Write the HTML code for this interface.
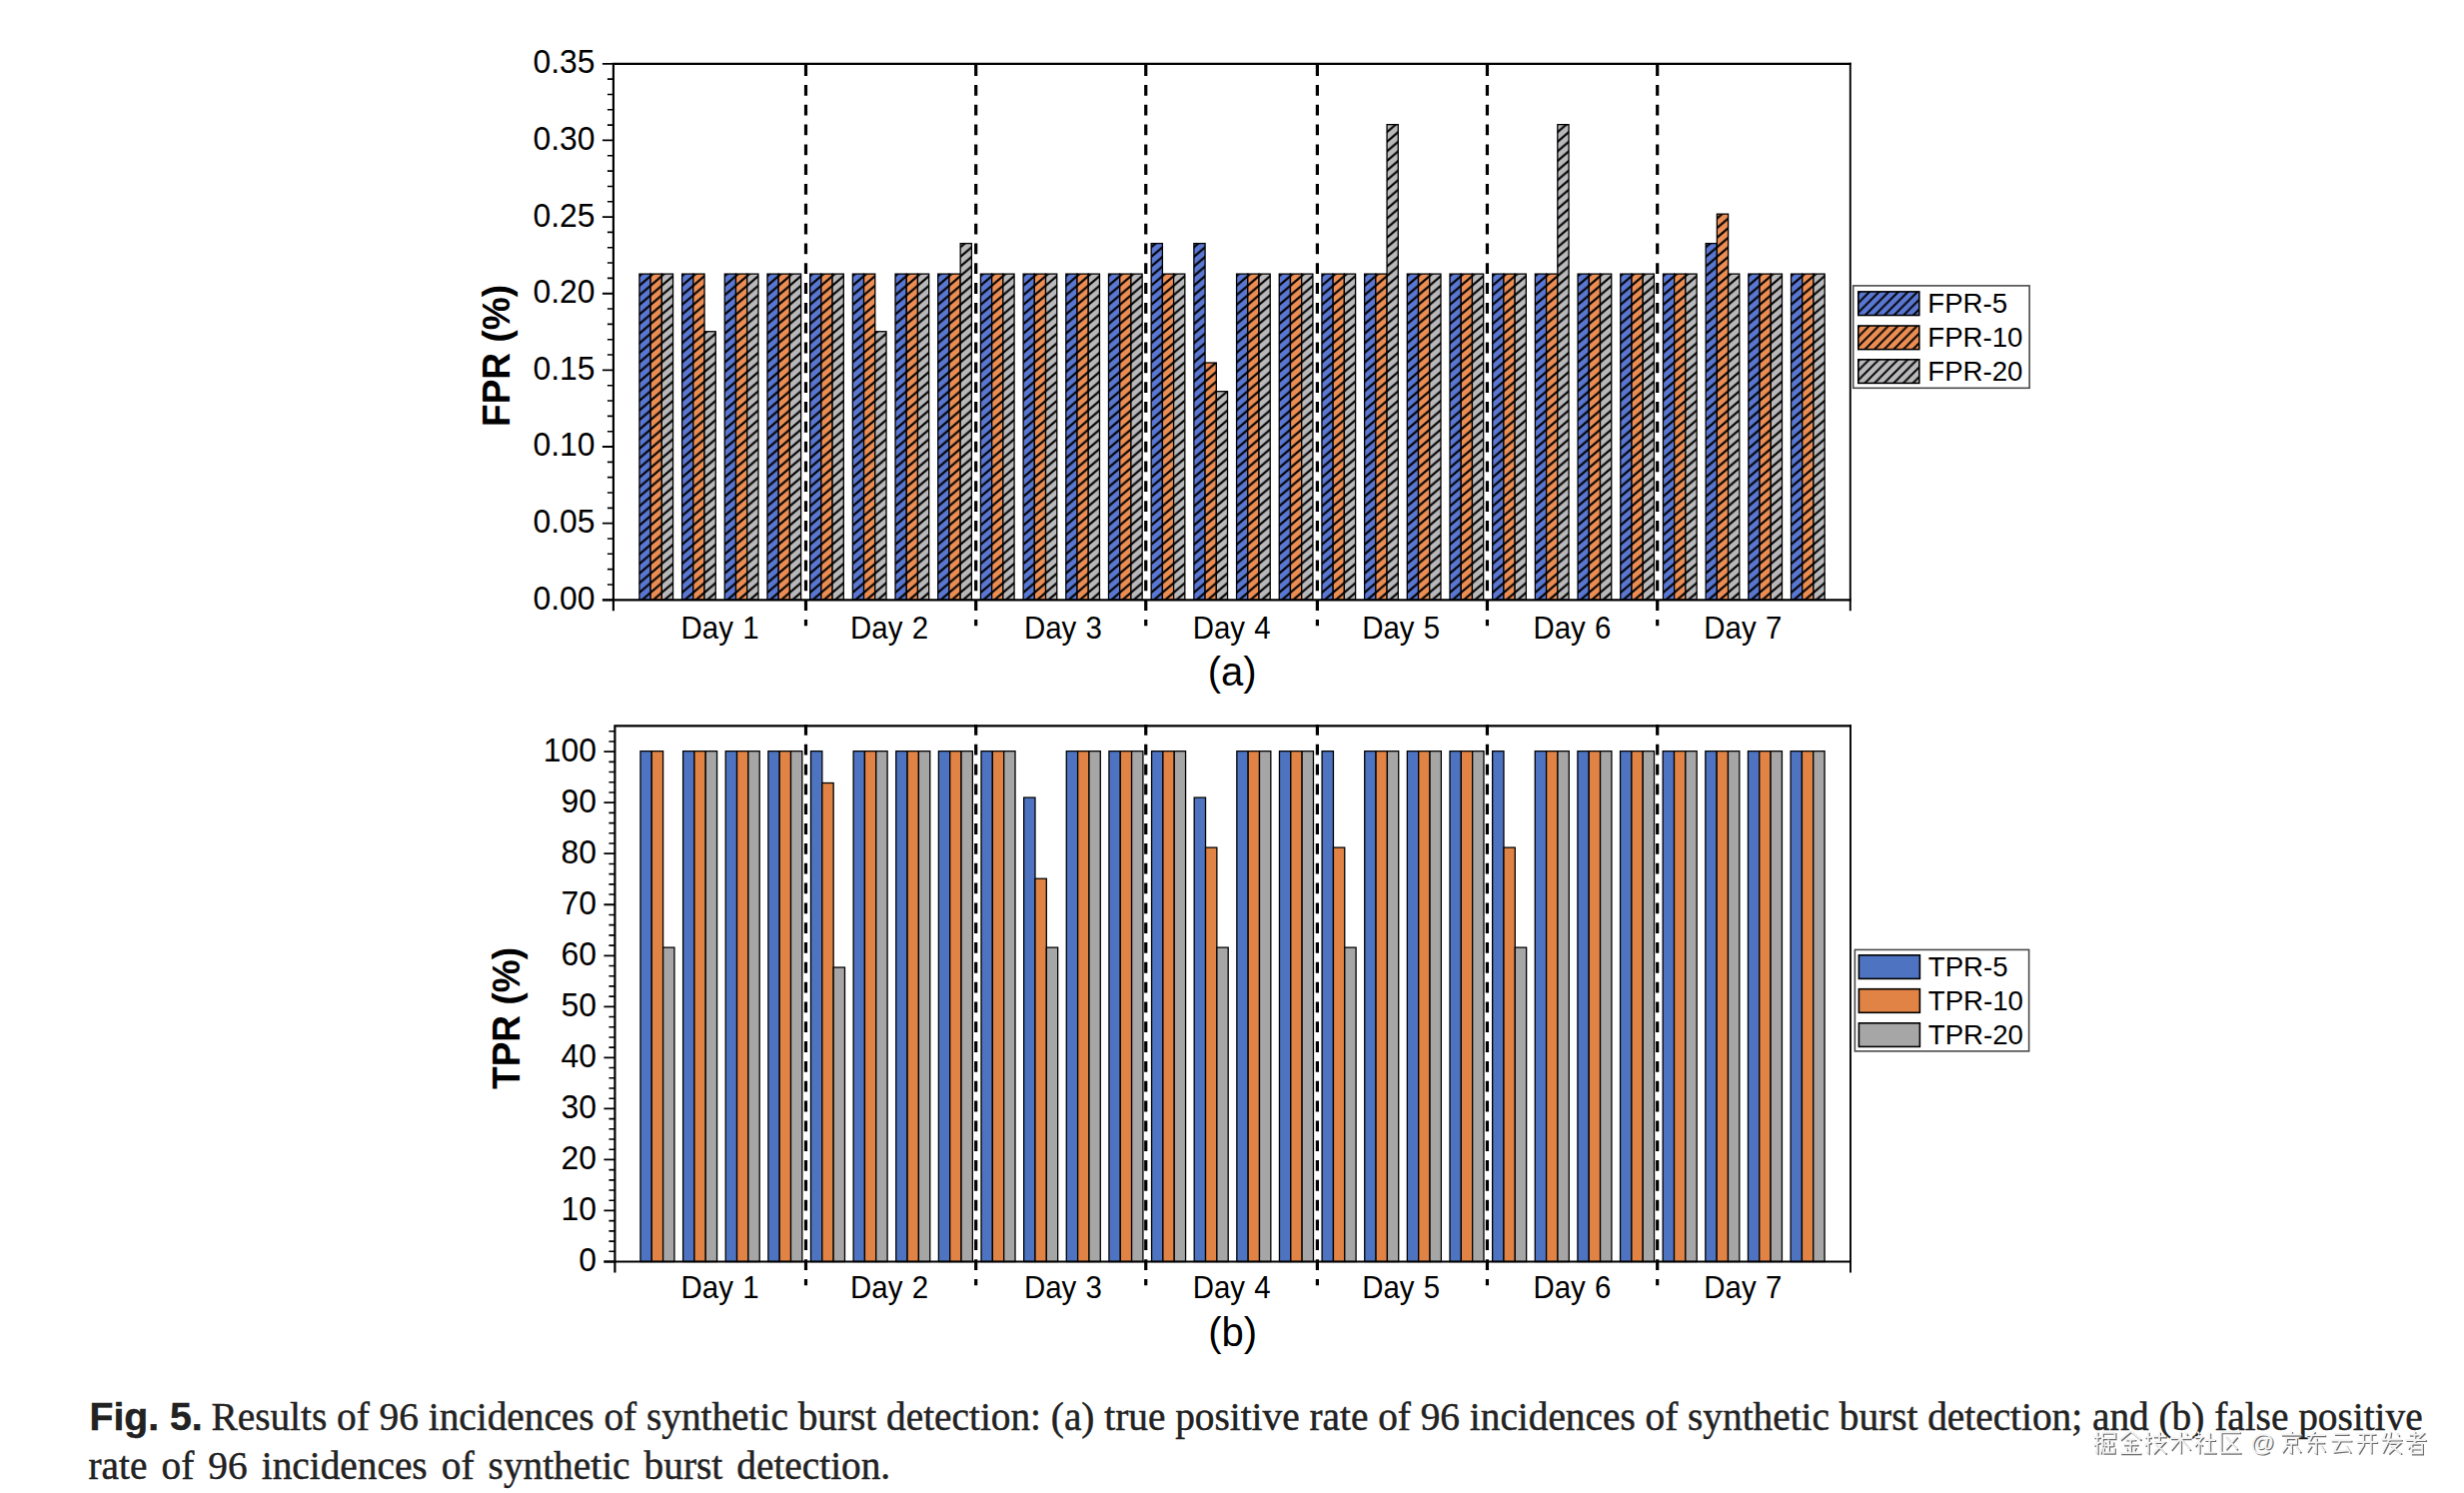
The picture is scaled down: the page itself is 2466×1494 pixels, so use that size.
<!DOCTYPE html>
<html><head><meta charset="utf-8"><title>Fig. 5</title>
<style>html,body{margin:0;padding:0;background:#fff}body{width:2466px;height:1494px;position:relative;overflow:hidden;font-family:"Liberation Sans",sans-serif}</style></head>
<body>
<svg width="2466" height="1494" viewBox="0 0 2466 1494" style="position:absolute;left:0;top:0">
<defs>
<pattern id="hb" patternUnits="userSpaceOnUse" x="0" y="7.40" width="11.22" height="9.60">
<rect x="0" y="0" width="11.22" height="9.60" fill="#5a77d2"/>
<path d="M-11.22 19.20L11.22 0.00M0.00 19.20L22.44 0.00M-11.22 9.60L11.22 -9.60" stroke="#000" stroke-width="2.10" fill="none"/>
</pattern>
<pattern id="ho" patternUnits="userSpaceOnUse" x="0" y="7.40" width="11.22" height="9.60">
<rect x="0" y="0" width="11.22" height="9.60" fill="#ec8e54"/>
<path d="M-11.22 19.20L11.22 0.00M0.00 19.20L22.44 0.00M-11.22 9.60L11.22 -9.60" stroke="#000" stroke-width="2.10" fill="none"/>
</pattern>
<pattern id="hg" patternUnits="userSpaceOnUse" x="0" y="7.40" width="11.22" height="9.60">
<rect x="0" y="0" width="11.22" height="9.60" fill="#b9b9bb"/>
<path d="M-11.22 19.20L11.22 0.00M0.00 19.20L22.44 0.00M-11.22 9.60L11.22 -9.60" stroke="#000" stroke-width="2.10" fill="none"/>
</pattern>
<pattern id="lb" patternUnits="userSpaceOnUse" x="0" y="3.00" width="9.60" height="9.60">
<rect x="0" y="0" width="9.60" height="9.60" fill="#5a77d2"/>
<path d="M-9.60 19.20L9.60 0.00M0.00 19.20L19.20 0.00M-9.60 9.60L9.60 -9.60" stroke="#000" stroke-width="1.90" fill="none"/>
</pattern>
<pattern id="lo" patternUnits="userSpaceOnUse" x="0" y="8.00" width="9.60" height="9.60">
<rect x="0" y="0" width="9.60" height="9.60" fill="#ec8e54"/>
<path d="M-9.60 19.20L9.60 0.00M0.00 19.20L19.20 0.00M-9.60 9.60L9.60 -9.60" stroke="#000" stroke-width="1.90" fill="none"/>
</pattern>
<pattern id="lg" patternUnits="userSpaceOnUse" x="0" y="3.40" width="9.60" height="9.60">
<rect x="0" y="0" width="9.60" height="9.60" fill="#b9b9bb"/>
<path d="M-9.60 19.20L9.60 0.00M0.00 19.20L19.20 0.00M-9.60 9.60L9.60 -9.60" stroke="#000" stroke-width="1.90" fill="none"/>
</pattern>
</defs>
<rect width="2466" height="1494" fill="#fff"/>
<g font-family="Liberation Sans, sans-serif" fill="#000">
<g transform="translate(639.90 0)">
<rect x="0.00" y="274.11" width="11.22" height="326.19" fill="url(#hb)" stroke="#000" stroke-width="1.3"/>
<rect x="11.22" y="274.11" width="11.22" height="326.19" fill="url(#ho)" stroke="#000" stroke-width="1.3"/>
<rect x="22.44" y="274.11" width="11.22" height="326.19" fill="url(#hg)" stroke="#000" stroke-width="1.3"/>
</g>
<g transform="translate(682.59 0)">
<rect x="0.00" y="274.11" width="11.22" height="326.19" fill="url(#hb)" stroke="#000" stroke-width="1.3"/>
<rect x="11.22" y="274.11" width="11.22" height="326.19" fill="url(#ho)" stroke="#000" stroke-width="1.3"/>
<rect x="22.44" y="331.74" width="11.22" height="268.56" fill="url(#hg)" stroke="#000" stroke-width="1.3"/>
</g>
<g transform="translate(725.28 0)">
<rect x="0.00" y="274.11" width="11.22" height="326.19" fill="url(#hb)" stroke="#000" stroke-width="1.3"/>
<rect x="11.22" y="274.11" width="11.22" height="326.19" fill="url(#ho)" stroke="#000" stroke-width="1.3"/>
<rect x="22.44" y="274.11" width="11.22" height="326.19" fill="url(#hg)" stroke="#000" stroke-width="1.3"/>
</g>
<g transform="translate(767.97 0)">
<rect x="0.00" y="274.11" width="11.22" height="326.19" fill="url(#hb)" stroke="#000" stroke-width="1.3"/>
<rect x="11.22" y="274.11" width="11.22" height="326.19" fill="url(#ho)" stroke="#000" stroke-width="1.3"/>
<rect x="22.44" y="274.11" width="11.22" height="326.19" fill="url(#hg)" stroke="#000" stroke-width="1.3"/>
</g>
<g transform="translate(810.66 0)">
<rect x="0.00" y="274.11" width="11.22" height="326.19" fill="url(#hb)" stroke="#000" stroke-width="1.3"/>
<rect x="11.22" y="274.11" width="11.22" height="326.19" fill="url(#ho)" stroke="#000" stroke-width="1.3"/>
<rect x="22.44" y="274.11" width="11.22" height="326.19" fill="url(#hg)" stroke="#000" stroke-width="1.3"/>
</g>
<g transform="translate(853.35 0)">
<rect x="0.00" y="274.11" width="11.22" height="326.19" fill="url(#hb)" stroke="#000" stroke-width="1.3"/>
<rect x="11.22" y="274.11" width="11.22" height="326.19" fill="url(#ho)" stroke="#000" stroke-width="1.3"/>
<rect x="22.44" y="331.74" width="11.22" height="268.56" fill="url(#hg)" stroke="#000" stroke-width="1.3"/>
</g>
<g transform="translate(896.04 0)">
<rect x="0.00" y="274.11" width="11.22" height="326.19" fill="url(#hb)" stroke="#000" stroke-width="1.3"/>
<rect x="11.22" y="274.11" width="11.22" height="326.19" fill="url(#ho)" stroke="#000" stroke-width="1.3"/>
<rect x="22.44" y="274.11" width="11.22" height="326.19" fill="url(#hg)" stroke="#000" stroke-width="1.3"/>
</g>
<g transform="translate(938.73 0)">
<rect x="0.00" y="274.11" width="11.22" height="326.19" fill="url(#hb)" stroke="#000" stroke-width="1.3"/>
<rect x="11.22" y="274.11" width="11.22" height="326.19" fill="url(#ho)" stroke="#000" stroke-width="1.3"/>
<rect x="22.44" y="243.60" width="11.22" height="356.70" fill="url(#hg)" stroke="#000" stroke-width="1.3"/>
</g>
<g transform="translate(981.42 0)">
<rect x="0.00" y="274.11" width="11.22" height="326.19" fill="url(#hb)" stroke="#000" stroke-width="1.3"/>
<rect x="11.22" y="274.11" width="11.22" height="326.19" fill="url(#ho)" stroke="#000" stroke-width="1.3"/>
<rect x="22.44" y="274.11" width="11.22" height="326.19" fill="url(#hg)" stroke="#000" stroke-width="1.3"/>
</g>
<g transform="translate(1024.11 0)">
<rect x="0.00" y="274.11" width="11.22" height="326.19" fill="url(#hb)" stroke="#000" stroke-width="1.3"/>
<rect x="11.22" y="274.11" width="11.22" height="326.19" fill="url(#ho)" stroke="#000" stroke-width="1.3"/>
<rect x="22.44" y="274.11" width="11.22" height="326.19" fill="url(#hg)" stroke="#000" stroke-width="1.3"/>
</g>
<g transform="translate(1066.80 0)">
<rect x="0.00" y="274.11" width="11.22" height="326.19" fill="url(#hb)" stroke="#000" stroke-width="1.3"/>
<rect x="11.22" y="274.11" width="11.22" height="326.19" fill="url(#ho)" stroke="#000" stroke-width="1.3"/>
<rect x="22.44" y="274.11" width="11.22" height="326.19" fill="url(#hg)" stroke="#000" stroke-width="1.3"/>
</g>
<g transform="translate(1109.49 0)">
<rect x="0.00" y="274.11" width="11.22" height="326.19" fill="url(#hb)" stroke="#000" stroke-width="1.3"/>
<rect x="11.22" y="274.11" width="11.22" height="326.19" fill="url(#ho)" stroke="#000" stroke-width="1.3"/>
<rect x="22.44" y="274.11" width="11.22" height="326.19" fill="url(#hg)" stroke="#000" stroke-width="1.3"/>
</g>
<g transform="translate(1152.18 0)">
<rect x="0.00" y="243.60" width="11.22" height="356.70" fill="url(#hb)" stroke="#000" stroke-width="1.3"/>
<rect x="11.22" y="274.11" width="11.22" height="326.19" fill="url(#ho)" stroke="#000" stroke-width="1.3"/>
<rect x="22.44" y="274.11" width="11.22" height="326.19" fill="url(#hg)" stroke="#000" stroke-width="1.3"/>
</g>
<g transform="translate(1194.87 0)">
<rect x="0.00" y="243.60" width="11.22" height="356.70" fill="url(#hb)" stroke="#000" stroke-width="1.3"/>
<rect x="11.22" y="363.01" width="11.22" height="237.29" fill="url(#ho)" stroke="#000" stroke-width="1.3"/>
<rect x="22.44" y="391.68" width="11.22" height="208.62" fill="url(#hg)" stroke="#000" stroke-width="1.3"/>
</g>
<g transform="translate(1237.56 0)">
<rect x="0.00" y="274.11" width="11.22" height="326.19" fill="url(#hb)" stroke="#000" stroke-width="1.3"/>
<rect x="11.22" y="274.11" width="11.22" height="326.19" fill="url(#ho)" stroke="#000" stroke-width="1.3"/>
<rect x="22.44" y="274.11" width="11.22" height="326.19" fill="url(#hg)" stroke="#000" stroke-width="1.3"/>
</g>
<g transform="translate(1280.25 0)">
<rect x="0.00" y="274.11" width="11.22" height="326.19" fill="url(#hb)" stroke="#000" stroke-width="1.3"/>
<rect x="11.22" y="274.11" width="11.22" height="326.19" fill="url(#ho)" stroke="#000" stroke-width="1.3"/>
<rect x="22.44" y="274.11" width="11.22" height="326.19" fill="url(#hg)" stroke="#000" stroke-width="1.3"/>
</g>
<g transform="translate(1322.94 0)">
<rect x="0.00" y="274.11" width="11.22" height="326.19" fill="url(#hb)" stroke="#000" stroke-width="1.3"/>
<rect x="11.22" y="274.11" width="11.22" height="326.19" fill="url(#ho)" stroke="#000" stroke-width="1.3"/>
<rect x="22.44" y="274.11" width="11.22" height="326.19" fill="url(#hg)" stroke="#000" stroke-width="1.3"/>
</g>
<g transform="translate(1365.63 0)">
<rect x="0.00" y="274.11" width="11.22" height="326.19" fill="url(#hb)" stroke="#000" stroke-width="1.3"/>
<rect x="11.22" y="274.11" width="11.22" height="326.19" fill="url(#ho)" stroke="#000" stroke-width="1.3"/>
<rect x="22.44" y="124.65" width="11.22" height="475.65" fill="url(#hg)" stroke="#000" stroke-width="1.3"/>
</g>
<g transform="translate(1408.32 0)">
<rect x="0.00" y="274.11" width="11.22" height="326.19" fill="url(#hb)" stroke="#000" stroke-width="1.3"/>
<rect x="11.22" y="274.11" width="11.22" height="326.19" fill="url(#ho)" stroke="#000" stroke-width="1.3"/>
<rect x="22.44" y="274.11" width="11.22" height="326.19" fill="url(#hg)" stroke="#000" stroke-width="1.3"/>
</g>
<g transform="translate(1451.01 0)">
<rect x="0.00" y="274.11" width="11.22" height="326.19" fill="url(#hb)" stroke="#000" stroke-width="1.3"/>
<rect x="11.22" y="274.11" width="11.22" height="326.19" fill="url(#ho)" stroke="#000" stroke-width="1.3"/>
<rect x="22.44" y="274.11" width="11.22" height="326.19" fill="url(#hg)" stroke="#000" stroke-width="1.3"/>
</g>
<g transform="translate(1493.70 0)">
<rect x="0.00" y="274.11" width="11.22" height="326.19" fill="url(#hb)" stroke="#000" stroke-width="1.3"/>
<rect x="11.22" y="274.11" width="11.22" height="326.19" fill="url(#ho)" stroke="#000" stroke-width="1.3"/>
<rect x="22.44" y="274.11" width="11.22" height="326.19" fill="url(#hg)" stroke="#000" stroke-width="1.3"/>
</g>
<g transform="translate(1536.39 0)">
<rect x="0.00" y="274.11" width="11.22" height="326.19" fill="url(#hb)" stroke="#000" stroke-width="1.3"/>
<rect x="11.22" y="274.11" width="11.22" height="326.19" fill="url(#ho)" stroke="#000" stroke-width="1.3"/>
<rect x="22.44" y="124.65" width="11.22" height="475.65" fill="url(#hg)" stroke="#000" stroke-width="1.3"/>
</g>
<g transform="translate(1579.08 0)">
<rect x="0.00" y="274.11" width="11.22" height="326.19" fill="url(#hb)" stroke="#000" stroke-width="1.3"/>
<rect x="11.22" y="274.11" width="11.22" height="326.19" fill="url(#ho)" stroke="#000" stroke-width="1.3"/>
<rect x="22.44" y="274.11" width="11.22" height="326.19" fill="url(#hg)" stroke="#000" stroke-width="1.3"/>
</g>
<g transform="translate(1621.77 0)">
<rect x="0.00" y="274.11" width="11.22" height="326.19" fill="url(#hb)" stroke="#000" stroke-width="1.3"/>
<rect x="11.22" y="274.11" width="11.22" height="326.19" fill="url(#ho)" stroke="#000" stroke-width="1.3"/>
<rect x="22.44" y="274.11" width="11.22" height="326.19" fill="url(#hg)" stroke="#000" stroke-width="1.3"/>
</g>
<g transform="translate(1664.46 0)">
<rect x="0.00" y="274.11" width="11.22" height="326.19" fill="url(#hb)" stroke="#000" stroke-width="1.3"/>
<rect x="11.22" y="274.11" width="11.22" height="326.19" fill="url(#ho)" stroke="#000" stroke-width="1.3"/>
<rect x="22.44" y="274.11" width="11.22" height="326.19" fill="url(#hg)" stroke="#000" stroke-width="1.3"/>
</g>
<g transform="translate(1707.15 0)">
<rect x="0.00" y="243.60" width="11.22" height="356.70" fill="url(#hb)" stroke="#000" stroke-width="1.3"/>
<rect x="11.22" y="214.17" width="11.22" height="386.13" fill="url(#ho)" stroke="#000" stroke-width="1.3"/>
<rect x="22.44" y="274.11" width="11.22" height="326.19" fill="url(#hg)" stroke="#000" stroke-width="1.3"/>
</g>
<g transform="translate(1749.84 0)">
<rect x="0.00" y="274.11" width="11.22" height="326.19" fill="url(#hb)" stroke="#000" stroke-width="1.3"/>
<rect x="11.22" y="274.11" width="11.22" height="326.19" fill="url(#ho)" stroke="#000" stroke-width="1.3"/>
<rect x="22.44" y="274.11" width="11.22" height="326.19" fill="url(#hg)" stroke="#000" stroke-width="1.3"/>
</g>
<g transform="translate(1792.53 0)">
<rect x="0.00" y="274.11" width="11.22" height="326.19" fill="url(#hb)" stroke="#000" stroke-width="1.3"/>
<rect x="11.22" y="274.11" width="11.22" height="326.19" fill="url(#ho)" stroke="#000" stroke-width="1.3"/>
<rect x="22.44" y="274.11" width="11.22" height="326.19" fill="url(#hg)" stroke="#000" stroke-width="1.3"/>
</g>
<path d="M806.50 65.1V626.2" stroke="#000" stroke-width="3.2" stroke-dasharray="10.8 9.02" fill="none"/>
<path d="M976.70 65.1V626.2" stroke="#000" stroke-width="3.2" stroke-dasharray="10.8 9.02" fill="none"/>
<path d="M1146.75 65.1V626.2" stroke="#000" stroke-width="3.2" stroke-dasharray="10.8 9.02" fill="none"/>
<path d="M1318.40 65.1V626.2" stroke="#000" stroke-width="3.2" stroke-dasharray="10.8 9.02" fill="none"/>
<path d="M1488.45 65.1V626.2" stroke="#000" stroke-width="3.2" stroke-dasharray="10.8 9.02" fill="none"/>
<path d="M1658.70 65.1V626.2" stroke="#000" stroke-width="3.2" stroke-dasharray="10.8 9.02" fill="none"/>
<path d="M613.90 62.70V611.30 M602.90 600.30H1852.70 M612.80 63.80H1852.70" stroke="#000" stroke-width="2.2" fill="none"/>
<path d="M1851.80 62.70V611.30" stroke="#000" stroke-width="1.9" fill="none"/>
<path d="M602.90 600.30H613.90M602.90 523.66H613.90M602.90 447.01H613.90M602.90 370.37H613.90M602.90 293.73H613.90M602.90 217.09H613.90M602.90 140.44H613.90M602.90 63.80H613.90" stroke="#000" stroke-width="1.8" fill="none"/>
<path d="M607.90 584.97H613.90M607.90 569.64H613.90M607.90 554.31H613.90M607.90 538.99H613.90M607.90 508.33H613.90M607.90 493.00H613.90M607.90 477.67H613.90M607.90 462.34H613.90M607.90 431.69H613.90M607.90 416.36H613.90M607.90 401.03H613.90M607.90 385.70H613.90M607.90 355.04H613.90M607.90 339.71H613.90M607.90 324.39H613.90M607.90 309.06H613.90M607.90 278.40H613.90M607.90 263.07H613.90M607.90 247.74H613.90M607.90 232.41H613.90M607.90 201.76H613.90M607.90 186.43H613.90M607.90 171.10H613.90M607.90 155.77H613.90M607.90 125.11H613.90M607.90 109.79H613.90M607.90 94.46H613.90M607.90 79.13H613.90" stroke="#000" stroke-width="1.6" fill="none"/>
<text transform="translate(595.5 609.7) scale(0.96 1)" text-anchor="end" font-size="33.2">0.00</text>
<text transform="translate(595.5 533.1) scale(0.96 1)" text-anchor="end" font-size="33.2">0.05</text>
<text transform="translate(595.5 456.4) scale(0.96 1)" text-anchor="end" font-size="33.2">0.10</text>
<text transform="translate(595.5 379.8) scale(0.96 1)" text-anchor="end" font-size="33.2">0.15</text>
<text transform="translate(595.5 303.1) scale(0.96 1)" text-anchor="end" font-size="33.2">0.20</text>
<text transform="translate(595.5 226.5) scale(0.96 1)" text-anchor="end" font-size="33.2">0.25</text>
<text transform="translate(595.5 149.8) scale(0.96 1)" text-anchor="end" font-size="33.2">0.30</text>
<text transform="translate(595.5 73.2) scale(0.96 1)" text-anchor="end" font-size="33.2">0.35</text>
<g transform="translate(640.95 0)">
<rect x="0.00" y="751.65" width="11.33" height="510.85" fill="#4e74c1" stroke="#000" stroke-width="1.3"/>
<rect x="11.33" y="751.65" width="11.33" height="510.85" fill="#e08345" stroke="#000" stroke-width="1.3"/>
<rect x="22.66" y="948.13" width="11.33" height="314.37" fill="#a6a6a6" stroke="#000" stroke-width="1.3"/>
</g>
<g transform="translate(683.59 0)">
<rect x="0.00" y="751.65" width="11.33" height="510.85" fill="#4e74c1" stroke="#000" stroke-width="1.3"/>
<rect x="11.33" y="751.65" width="11.33" height="510.85" fill="#e08345" stroke="#000" stroke-width="1.3"/>
<rect x="22.66" y="751.65" width="11.33" height="510.85" fill="#a6a6a6" stroke="#000" stroke-width="1.3"/>
</g>
<g transform="translate(726.22 0)">
<rect x="0.00" y="751.65" width="11.33" height="510.85" fill="#4e74c1" stroke="#000" stroke-width="1.3"/>
<rect x="11.33" y="751.65" width="11.33" height="510.85" fill="#e08345" stroke="#000" stroke-width="1.3"/>
<rect x="22.66" y="751.65" width="11.33" height="510.85" fill="#a6a6a6" stroke="#000" stroke-width="1.3"/>
</g>
<g transform="translate(768.86 0)">
<rect x="0.00" y="751.65" width="11.33" height="510.85" fill="#4e74c1" stroke="#000" stroke-width="1.3"/>
<rect x="11.33" y="751.65" width="11.33" height="510.85" fill="#e08345" stroke="#000" stroke-width="1.3"/>
<rect x="22.66" y="751.65" width="11.33" height="510.85" fill="#a6a6a6" stroke="#000" stroke-width="1.3"/>
</g>
<g transform="translate(811.49 0)">
<rect x="0.00" y="751.65" width="11.33" height="510.85" fill="#4e74c1" stroke="#000" stroke-width="1.3"/>
<rect x="11.33" y="783.50" width="11.33" height="479.00" fill="#e08345" stroke="#000" stroke-width="1.3"/>
<rect x="22.66" y="968.04" width="11.33" height="294.46" fill="#a6a6a6" stroke="#000" stroke-width="1.3"/>
</g>
<g transform="translate(854.12 0)">
<rect x="0.00" y="751.65" width="11.33" height="510.85" fill="#4e74c1" stroke="#000" stroke-width="1.3"/>
<rect x="11.33" y="751.65" width="11.33" height="510.85" fill="#e08345" stroke="#000" stroke-width="1.3"/>
<rect x="22.66" y="751.65" width="11.33" height="510.85" fill="#a6a6a6" stroke="#000" stroke-width="1.3"/>
</g>
<g transform="translate(896.76 0)">
<rect x="0.00" y="751.65" width="11.33" height="510.85" fill="#4e74c1" stroke="#000" stroke-width="1.3"/>
<rect x="11.33" y="751.65" width="11.33" height="510.85" fill="#e08345" stroke="#000" stroke-width="1.3"/>
<rect x="22.66" y="751.65" width="11.33" height="510.85" fill="#a6a6a6" stroke="#000" stroke-width="1.3"/>
</g>
<g transform="translate(939.39 0)">
<rect x="0.00" y="751.65" width="11.33" height="510.85" fill="#4e74c1" stroke="#000" stroke-width="1.3"/>
<rect x="11.33" y="751.65" width="11.33" height="510.85" fill="#e08345" stroke="#000" stroke-width="1.3"/>
<rect x="22.66" y="751.65" width="11.33" height="510.85" fill="#a6a6a6" stroke="#000" stroke-width="1.3"/>
</g>
<g transform="translate(982.03 0)">
<rect x="0.00" y="751.65" width="11.33" height="510.85" fill="#4e74c1" stroke="#000" stroke-width="1.3"/>
<rect x="11.33" y="751.65" width="11.33" height="510.85" fill="#e08345" stroke="#000" stroke-width="1.3"/>
<rect x="22.66" y="751.65" width="11.33" height="510.85" fill="#a6a6a6" stroke="#000" stroke-width="1.3"/>
</g>
<g transform="translate(1024.66 0)">
<rect x="0.00" y="798.09" width="11.33" height="464.41" fill="#4e74c1" stroke="#000" stroke-width="1.3"/>
<rect x="11.33" y="879.24" width="11.33" height="383.26" fill="#e08345" stroke="#000" stroke-width="1.3"/>
<rect x="22.66" y="948.13" width="11.33" height="314.37" fill="#a6a6a6" stroke="#000" stroke-width="1.3"/>
</g>
<g transform="translate(1067.30 0)">
<rect x="0.00" y="751.65" width="11.33" height="510.85" fill="#4e74c1" stroke="#000" stroke-width="1.3"/>
<rect x="11.33" y="751.65" width="11.33" height="510.85" fill="#e08345" stroke="#000" stroke-width="1.3"/>
<rect x="22.66" y="751.65" width="11.33" height="510.85" fill="#a6a6a6" stroke="#000" stroke-width="1.3"/>
</g>
<g transform="translate(1109.93 0)">
<rect x="0.00" y="751.65" width="11.33" height="510.85" fill="#4e74c1" stroke="#000" stroke-width="1.3"/>
<rect x="11.33" y="751.65" width="11.33" height="510.85" fill="#e08345" stroke="#000" stroke-width="1.3"/>
<rect x="22.66" y="751.65" width="11.33" height="510.85" fill="#a6a6a6" stroke="#000" stroke-width="1.3"/>
</g>
<g transform="translate(1152.57 0)">
<rect x="0.00" y="751.65" width="11.33" height="510.85" fill="#4e74c1" stroke="#000" stroke-width="1.3"/>
<rect x="11.33" y="751.65" width="11.33" height="510.85" fill="#e08345" stroke="#000" stroke-width="1.3"/>
<rect x="22.66" y="751.65" width="11.33" height="510.85" fill="#a6a6a6" stroke="#000" stroke-width="1.3"/>
</g>
<g transform="translate(1195.20 0)">
<rect x="0.00" y="798.09" width="11.33" height="464.41" fill="#4e74c1" stroke="#000" stroke-width="1.3"/>
<rect x="11.33" y="848.11" width="11.33" height="414.39" fill="#e08345" stroke="#000" stroke-width="1.3"/>
<rect x="22.66" y="948.13" width="11.33" height="314.37" fill="#a6a6a6" stroke="#000" stroke-width="1.3"/>
</g>
<g transform="translate(1237.84 0)">
<rect x="0.00" y="751.65" width="11.33" height="510.85" fill="#4e74c1" stroke="#000" stroke-width="1.3"/>
<rect x="11.33" y="751.65" width="11.33" height="510.85" fill="#e08345" stroke="#000" stroke-width="1.3"/>
<rect x="22.66" y="751.65" width="11.33" height="510.85" fill="#a6a6a6" stroke="#000" stroke-width="1.3"/>
</g>
<g transform="translate(1280.47 0)">
<rect x="0.00" y="751.65" width="11.33" height="510.85" fill="#4e74c1" stroke="#000" stroke-width="1.3"/>
<rect x="11.33" y="751.65" width="11.33" height="510.85" fill="#e08345" stroke="#000" stroke-width="1.3"/>
<rect x="22.66" y="751.65" width="11.33" height="510.85" fill="#a6a6a6" stroke="#000" stroke-width="1.3"/>
</g>
<g transform="translate(1323.11 0)">
<rect x="0.00" y="751.65" width="11.33" height="510.85" fill="#4e74c1" stroke="#000" stroke-width="1.3"/>
<rect x="11.33" y="848.11" width="11.33" height="414.39" fill="#e08345" stroke="#000" stroke-width="1.3"/>
<rect x="22.66" y="948.13" width="11.33" height="314.37" fill="#a6a6a6" stroke="#000" stroke-width="1.3"/>
</g>
<g transform="translate(1365.74 0)">
<rect x="0.00" y="751.65" width="11.33" height="510.85" fill="#4e74c1" stroke="#000" stroke-width="1.3"/>
<rect x="11.33" y="751.65" width="11.33" height="510.85" fill="#e08345" stroke="#000" stroke-width="1.3"/>
<rect x="22.66" y="751.65" width="11.33" height="510.85" fill="#a6a6a6" stroke="#000" stroke-width="1.3"/>
</g>
<g transform="translate(1408.38 0)">
<rect x="0.00" y="751.65" width="11.33" height="510.85" fill="#4e74c1" stroke="#000" stroke-width="1.3"/>
<rect x="11.33" y="751.65" width="11.33" height="510.85" fill="#e08345" stroke="#000" stroke-width="1.3"/>
<rect x="22.66" y="751.65" width="11.33" height="510.85" fill="#a6a6a6" stroke="#000" stroke-width="1.3"/>
</g>
<g transform="translate(1451.01 0)">
<rect x="0.00" y="751.65" width="11.33" height="510.85" fill="#4e74c1" stroke="#000" stroke-width="1.3"/>
<rect x="11.33" y="751.65" width="11.33" height="510.85" fill="#e08345" stroke="#000" stroke-width="1.3"/>
<rect x="22.66" y="751.65" width="11.33" height="510.85" fill="#a6a6a6" stroke="#000" stroke-width="1.3"/>
</g>
<g transform="translate(1493.65 0)">
<rect x="0.00" y="751.65" width="11.33" height="510.85" fill="#4e74c1" stroke="#000" stroke-width="1.3"/>
<rect x="11.33" y="848.11" width="11.33" height="414.39" fill="#e08345" stroke="#000" stroke-width="1.3"/>
<rect x="22.66" y="948.13" width="11.33" height="314.37" fill="#a6a6a6" stroke="#000" stroke-width="1.3"/>
</g>
<g transform="translate(1536.28 0)">
<rect x="0.00" y="751.65" width="11.33" height="510.85" fill="#4e74c1" stroke="#000" stroke-width="1.3"/>
<rect x="11.33" y="751.65" width="11.33" height="510.85" fill="#e08345" stroke="#000" stroke-width="1.3"/>
<rect x="22.66" y="751.65" width="11.33" height="510.85" fill="#a6a6a6" stroke="#000" stroke-width="1.3"/>
</g>
<g transform="translate(1578.92 0)">
<rect x="0.00" y="751.65" width="11.33" height="510.85" fill="#4e74c1" stroke="#000" stroke-width="1.3"/>
<rect x="11.33" y="751.65" width="11.33" height="510.85" fill="#e08345" stroke="#000" stroke-width="1.3"/>
<rect x="22.66" y="751.65" width="11.33" height="510.85" fill="#a6a6a6" stroke="#000" stroke-width="1.3"/>
</g>
<g transform="translate(1621.55 0)">
<rect x="0.00" y="751.65" width="11.33" height="510.85" fill="#4e74c1" stroke="#000" stroke-width="1.3"/>
<rect x="11.33" y="751.65" width="11.33" height="510.85" fill="#e08345" stroke="#000" stroke-width="1.3"/>
<rect x="22.66" y="751.65" width="11.33" height="510.85" fill="#a6a6a6" stroke="#000" stroke-width="1.3"/>
</g>
<g transform="translate(1664.19 0)">
<rect x="0.00" y="751.65" width="11.33" height="510.85" fill="#4e74c1" stroke="#000" stroke-width="1.3"/>
<rect x="11.33" y="751.65" width="11.33" height="510.85" fill="#e08345" stroke="#000" stroke-width="1.3"/>
<rect x="22.66" y="751.65" width="11.33" height="510.85" fill="#a6a6a6" stroke="#000" stroke-width="1.3"/>
</g>
<g transform="translate(1706.83 0)">
<rect x="0.00" y="751.65" width="11.33" height="510.85" fill="#4e74c1" stroke="#000" stroke-width="1.3"/>
<rect x="11.33" y="751.65" width="11.33" height="510.85" fill="#e08345" stroke="#000" stroke-width="1.3"/>
<rect x="22.66" y="751.65" width="11.33" height="510.85" fill="#a6a6a6" stroke="#000" stroke-width="1.3"/>
</g>
<g transform="translate(1749.46 0)">
<rect x="0.00" y="751.65" width="11.33" height="510.85" fill="#4e74c1" stroke="#000" stroke-width="1.3"/>
<rect x="11.33" y="751.65" width="11.33" height="510.85" fill="#e08345" stroke="#000" stroke-width="1.3"/>
<rect x="22.66" y="751.65" width="11.33" height="510.85" fill="#a6a6a6" stroke="#000" stroke-width="1.3"/>
</g>
<g transform="translate(1792.10 0)">
<rect x="0.00" y="751.65" width="11.33" height="510.85" fill="#4e74c1" stroke="#000" stroke-width="1.3"/>
<rect x="11.33" y="751.65" width="11.33" height="510.85" fill="#e08345" stroke="#000" stroke-width="1.3"/>
<rect x="22.66" y="751.65" width="11.33" height="510.85" fill="#a6a6a6" stroke="#000" stroke-width="1.3"/>
</g>
<path d="M806.50 725.0V1286.2" stroke="#000" stroke-width="3.2" stroke-dasharray="10.8 9.02" fill="none"/>
<path d="M976.70 725.0V1286.2" stroke="#000" stroke-width="3.2" stroke-dasharray="10.8 9.02" fill="none"/>
<path d="M1146.75 725.0V1286.2" stroke="#000" stroke-width="3.2" stroke-dasharray="10.8 9.02" fill="none"/>
<path d="M1318.40 725.0V1286.2" stroke="#000" stroke-width="3.2" stroke-dasharray="10.8 9.02" fill="none"/>
<path d="M1488.45 725.0V1286.2" stroke="#000" stroke-width="3.2" stroke-dasharray="10.8 9.02" fill="none"/>
<path d="M1658.70 725.0V1286.2" stroke="#000" stroke-width="3.2" stroke-dasharray="10.8 9.02" fill="none"/>
<path d="M615.40 725.25V1273.50 M604.40 1262.50H1852.90 M614.30 726.35H1852.90" stroke="#000" stroke-width="2.2" fill="none"/>
<path d="M1852.00 725.25V1273.50" stroke="#000" stroke-width="1.9" fill="none"/>
<path d="M604.40 1262.50H615.40M604.40 1211.46H615.40M604.40 1160.43H615.40M604.40 1109.39H615.40M604.40 1058.36H615.40M604.40 1007.33H615.40M604.40 956.29H615.40M604.40 905.25H615.40M604.40 854.22H615.40M604.40 803.18H615.40M604.40 752.15H615.40" stroke="#000" stroke-width="1.8" fill="none"/>
<path d="M609.40 1252.29H615.40M609.40 1242.09H615.40M609.40 1231.88H615.40M609.40 1221.67H615.40M609.40 1201.26H615.40M609.40 1191.05H615.40M609.40 1180.84H615.40M609.40 1170.64H615.40M609.40 1150.22H615.40M609.40 1140.02H615.40M609.40 1129.81H615.40M609.40 1119.60H615.40M609.40 1099.19H615.40M609.40 1088.98H615.40M609.40 1078.77H615.40M609.40 1068.57H615.40M609.40 1048.15H615.40M609.40 1037.95H615.40M609.40 1027.74H615.40M609.40 1017.53H615.40M609.40 997.12H615.40M609.40 986.91H615.40M609.40 976.70H615.40M609.40 966.50H615.40M609.40 946.08H615.40M609.40 935.88H615.40M609.40 925.67H615.40M609.40 915.46H615.40M609.40 895.05H615.40M609.40 884.84H615.40M609.40 874.63H615.40M609.40 864.43H615.40M609.40 844.01H615.40M609.40 833.81H615.40M609.40 823.60H615.40M609.40 813.39H615.40M609.40 792.98H615.40M609.40 782.77H615.40M609.40 772.56H615.40M609.40 762.36H615.40M609.40 741.94H615.40M609.40 731.74H615.40" stroke="#000" stroke-width="1.6" fill="none"/>
<text transform="translate(597.0 1271.9) scale(0.96 1)" text-anchor="end" font-size="33.2">0</text>
<text transform="translate(597.0 1220.9) scale(0.96 1)" text-anchor="end" font-size="33.2">10</text>
<text transform="translate(597.0 1169.8) scale(0.96 1)" text-anchor="end" font-size="33.2">20</text>
<text transform="translate(597.0 1118.8) scale(0.96 1)" text-anchor="end" font-size="33.2">30</text>
<text transform="translate(597.0 1067.8) scale(0.96 1)" text-anchor="end" font-size="33.2">40</text>
<text transform="translate(597.0 1016.7) scale(0.96 1)" text-anchor="end" font-size="33.2">50</text>
<text transform="translate(597.0 965.7) scale(0.96 1)" text-anchor="end" font-size="33.2">60</text>
<text transform="translate(597.0 914.7) scale(0.96 1)" text-anchor="end" font-size="33.2">70</text>
<text transform="translate(597.0 863.6) scale(0.96 1)" text-anchor="end" font-size="33.2">80</text>
<text transform="translate(597.0 812.6) scale(0.96 1)" text-anchor="end" font-size="33.2">90</text>
<text transform="translate(597.0 761.5) scale(0.96 1)" text-anchor="end" font-size="33.2">100</text>
<text transform="translate(681.6 639.2) scale(0.955 1)" font-size="30.8" word-spacing="1.2">Day 1</text>
<text transform="translate(681.6 1299.2) scale(0.955 1)" font-size="30.8" word-spacing="1.2">Day 1</text>
<text transform="translate(851.1 639.2) scale(0.955 1)" font-size="30.8" word-spacing="1.2">Day 2</text>
<text transform="translate(851.1 1299.2) scale(0.955 1)" font-size="30.8" word-spacing="1.2">Day 2</text>
<text transform="translate(1024.9 639.2) scale(0.955 1)" font-size="30.8" word-spacing="1.2">Day 3</text>
<text transform="translate(1024.9 1299.2) scale(0.955 1)" font-size="30.8" word-spacing="1.2">Day 3</text>
<text transform="translate(1193.7 639.2) scale(0.955 1)" font-size="30.8" word-spacing="1.2">Day 4</text>
<text transform="translate(1193.7 1299.2) scale(0.955 1)" font-size="30.8" word-spacing="1.2">Day 4</text>
<text transform="translate(1363.2 639.2) scale(0.955 1)" font-size="30.8" word-spacing="1.2">Day 5</text>
<text transform="translate(1363.2 1299.2) scale(0.955 1)" font-size="30.8" word-spacing="1.2">Day 5</text>
<text transform="translate(1534.4 639.2) scale(0.955 1)" font-size="30.8" word-spacing="1.2">Day 6</text>
<text transform="translate(1534.4 1299.2) scale(0.955 1)" font-size="30.8" word-spacing="1.2">Day 6</text>
<text transform="translate(1705.3 639.2) scale(0.955 1)" font-size="30.8" word-spacing="1.2">Day 7</text>
<text transform="translate(1705.3 1299.2) scale(0.955 1)" font-size="30.8" word-spacing="1.2">Day 7</text>
<text x="1233.2" y="686" text-anchor="middle" font-size="40">(a)</text>
<text x="1233.6" y="1347.2" text-anchor="middle" font-size="40">(b)</text>
<text transform="translate(509.6 356) rotate(-90) scale(0.975 1)" text-anchor="middle" font-size="38" font-weight="bold">FPR (%)</text>
<text transform="translate(520 1019) rotate(-90) scale(0.975 1)" text-anchor="middle" font-size="38" font-weight="bold">TPR (%)</text>
<rect x="1854.7" y="285.9" width="176.4" height="102.4" fill="#fff" stroke="#4a4a4a" stroke-width="1.6"/>
<rect x="1859.8" y="291.9" width="61" height="23.6" fill="url(#lb)" stroke="#000" stroke-width="1.6"/>
<text x="1929.3" y="312.9" font-size="27.6">FPR-5</text>
<rect x="1859.8" y="326.0" width="61" height="23.6" fill="url(#lo)" stroke="#000" stroke-width="1.6"/>
<text x="1929.3" y="346.9" font-size="27.6">FPR-10</text>
<rect x="1859.8" y="359.8" width="61" height="23.6" fill="url(#lg)" stroke="#000" stroke-width="1.6"/>
<text x="1929.3" y="381.1" font-size="27.6">FPR-20</text>
<rect x="1856.4" y="950.4" width="174.2" height="101.5" fill="#fff" stroke="#4a4a4a" stroke-width="1.6"/>
<rect x="1860.4" y="955.8" width="61" height="23.6" fill="#4e74c1" stroke="#000" stroke-width="1.6"/>
<text x="1929.8" y="976.9" font-size="27.6">TPR-5</text>
<rect x="1860.4" y="989.7" width="61" height="23.6" fill="#e08345" stroke="#000" stroke-width="1.6"/>
<text x="1929.8" y="1010.7" font-size="27.6">TPR-10</text>
<rect x="1860.4" y="1023.8" width="61" height="23.6" fill="#a6a6a6" stroke="#000" stroke-width="1.6"/>
<text x="1929.8" y="1044.6" font-size="27.6">TPR-20</text>
</g>
<g fill="#222" stroke="#222" stroke-width="0.45">
<text x="89.5" y="1431.2" font-family="Liberation Sans, sans-serif" font-weight="bold" font-size="39.2">Fig. 5.</text>
<text id="cap1" x="211.5" y="1431.2" font-family="Liberation Serif, serif" font-size="39.3" word-spacing="0">Results of 96 incidences of synthetic burst detection: (a) true positive rate of 96 incidences of synthetic burst detection; and (b) false positive</text>
<text id="cap2" x="88.5" y="1480.4" font-family="Liberation Serif, serif" font-size="39.3" word-spacing="4.3">rate of 96 incidences of synthetic burst detection.</text>
</g>
<g fill="none" stroke-linecap="butt" stroke-linejoin="miter">
<path transform="translate(2096.1 1432.5) scale(0.228 0.243)" d="M2 28H30M17 5V92L8 86M2 62L30 48 M40 10H95V32H40M40 10V60L32 95M67 38V92M50 45V62H86V45M45 70V92H92V70" stroke="#6e6e6e" stroke-width="7.0"/>
<path transform="translate(2122.0 1432.5) scale(0.228 0.243)" d="M50 3L5 38M50 3L95 38M28 38H72M18 58H82M5 94H95M50 38V94M28 68L35 82M72 68L65 82" stroke="#6e6e6e" stroke-width="7.0"/>
<path transform="translate(2147.2 1432.5) scale(0.228 0.243)" d="M2 28H30M17 5V92L8 86M2 62L30 48 M38 25H95M66 5V45M42 48H88L40 95M48 55L95 95" stroke="#6e6e6e" stroke-width="7.0"/>
<path transform="translate(2172.0 1432.5) scale(0.228 0.243)" d="M5 32H95M50 5V95M50 32L8 80M50 32L92 80M70 8L80 18" stroke="#6e6e6e" stroke-width="7.0"/>
<path transform="translate(2196.5 1432.5) scale(0.228 0.243)" d="M18 5L25 15M5 28H38L5 65M24 48V95M24 50L38 62M48 40H95M70 8V92M42 92H98" stroke="#6e6e6e" stroke-width="7.0"/>
<path transform="translate(2222.1 1432.5) scale(0.228 0.243)" d="M92 8H8V92H95M28 25L78 78M78 25L28 78" stroke="#6e6e6e" stroke-width="7.0"/>
<path transform="translate(2282.9 1432.5) scale(0.228 0.243)" d="M50 2V14M5 18H95M28 32H72V55H28ZM50 55V92L40 88M30 65L10 90M70 65L90 90" stroke="#6e6e6e" stroke-width="7.0"/>
<path transform="translate(2307.3 1432.5) scale(0.228 0.243)" d="M8 20H92M45 3L18 50H88M52 30V93L42 88M30 62L12 88M72 62L90 88" stroke="#6e6e6e" stroke-width="7.0"/>
<path transform="translate(2332.9 1432.5) scale(0.228 0.243)" d="M18 15H82M5 42H95M45 42L18 88L85 82M70 62L90 92" stroke="#6e6e6e" stroke-width="7.0"/>
<path transform="translate(2358.5 1432.5) scale(0.228 0.243)" d="M12 15H88M5 48H95M35 15V60L12 95M68 15V95" stroke="#6e6e6e" stroke-width="7.0"/>
<path transform="translate(2383.3 1432.5) scale(0.228 0.243)" d="M25 8L15 35M5 38H95M45 5L40 38L10 92M40 52H85L35 95M45 62L92 95M70 8L82 22" stroke="#6e6e6e" stroke-width="7.0"/>
<path transform="translate(2407.4 1432.5) scale(0.228 0.243)" d="M20 18H70M45 3V40M5 40H95M88 8L15 75M32 55H78V95H32ZM32 75H78" stroke="#6e6e6e" stroke-width="7.0"/>
<path transform="translate(2094.9 1431.3) scale(0.228 0.243)" d="M2 28H30M17 5V92L8 86M2 62L30 48 M40 10H95V32H40M40 10V60L32 95M67 38V92M50 45V62H86V45M45 70V92H92V70" stroke="#f2f2f2" stroke-width="7.6"/>
<path transform="translate(2120.8 1431.3) scale(0.228 0.243)" d="M50 3L5 38M50 3L95 38M28 38H72M18 58H82M5 94H95M50 38V94M28 68L35 82M72 68L65 82" stroke="#f2f2f2" stroke-width="7.6"/>
<path transform="translate(2146.0 1431.3) scale(0.228 0.243)" d="M2 28H30M17 5V92L8 86M2 62L30 48 M38 25H95M66 5V45M42 48H88L40 95M48 55L95 95" stroke="#f2f2f2" stroke-width="7.6"/>
<path transform="translate(2170.8 1431.3) scale(0.228 0.243)" d="M5 32H95M50 5V95M50 32L8 80M50 32L92 80M70 8L80 18" stroke="#f2f2f2" stroke-width="7.6"/>
<path transform="translate(2195.3 1431.3) scale(0.228 0.243)" d="M18 5L25 15M5 28H38L5 65M24 48V95M24 50L38 62M48 40H95M70 8V92M42 92H98" stroke="#f2f2f2" stroke-width="7.6"/>
<path transform="translate(2220.9 1431.3) scale(0.228 0.243)" d="M92 8H8V92H95M28 25L78 78M78 25L28 78" stroke="#f2f2f2" stroke-width="7.6"/>
<path transform="translate(2281.7 1431.3) scale(0.228 0.243)" d="M50 2V14M5 18H95M28 32H72V55H28ZM50 55V92L40 88M30 65L10 90M70 65L90 90" stroke="#f2f2f2" stroke-width="7.6"/>
<path transform="translate(2306.1 1431.3) scale(0.228 0.243)" d="M8 20H92M45 3L18 50H88M52 30V93L42 88M30 62L12 88M72 62L90 88" stroke="#f2f2f2" stroke-width="7.6"/>
<path transform="translate(2331.7 1431.3) scale(0.228 0.243)" d="M18 15H82M5 42H95M45 42L18 88L85 82M70 62L90 92" stroke="#f2f2f2" stroke-width="7.6"/>
<path transform="translate(2357.3 1431.3) scale(0.228 0.243)" d="M12 15H88M5 48H95M35 15V60L12 95M68 15V95" stroke="#f2f2f2" stroke-width="7.6"/>
<path transform="translate(2382.1 1431.3) scale(0.228 0.243)" d="M25 8L15 35M5 38H95M45 5L40 38L10 92M40 52H85L35 95M45 62L92 95M70 8L82 22" stroke="#f2f2f2" stroke-width="7.6"/>
<path transform="translate(2406.2 1431.3) scale(0.228 0.243)" d="M20 18H70M45 3V40M5 40H95M88 8L15 75M32 55H78V95H32ZM32 75H78" stroke="#f2f2f2" stroke-width="7.6"/>
</g>
<text x="2253.2" y="1453.2" font-family="Liberation Sans, sans-serif" font-size="24" fill="#6e6e6e">@</text>
<text x="2252" y="1452" font-family="Liberation Sans, sans-serif" font-size="24" fill="#f2f2f2">@</text>
</svg>
</body></html>
